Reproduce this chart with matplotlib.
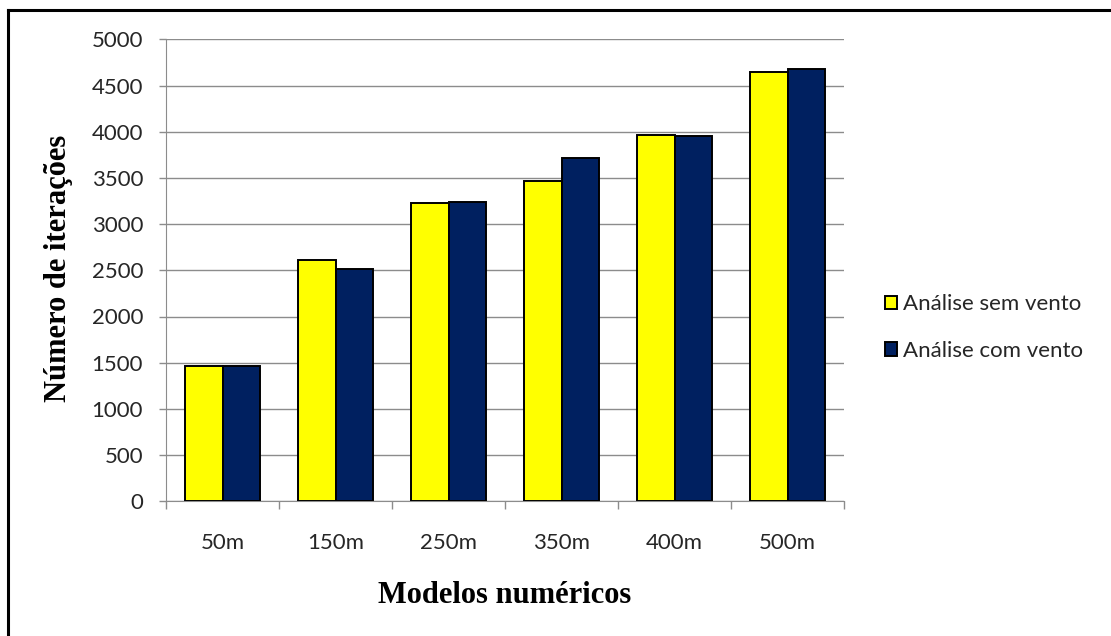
import matplotlib.pyplot as plt
from matplotlib.lines import Line2D
import numpy as np

# Dados do gráfico
modelos = ["50m", "150m", "250m", "350m", "400m", "500m"]
sem_vento = [1465, 2610, 3227, 3470, 3968, 4643]
com_vento = [1463, 2516, 3242, 3718, 3957, 4682]
yticks = [0, 500, 1000, 1500, 2000, 2500, 3000, 3500, 4000, 4500, 5000]

cor_amarelo = "#FFFF00"
cor_azul = "#002060"
cor_grade = "#8c8c8c"

fig = plt.figure(figsize=(11.11, 6.36), dpi=100)
ax = fig.add_axes([166 / 1111, 1 - 501.3 / 636, 678 / 1111, 462 / 636])

x = np.arange(len(modelos))
w = 0.333
ax.bar(x - w / 2, sem_vento, w, color=cor_amarelo, edgecolor="black",
       linewidth=1.4, label="Análise sem vento", zorder=3)
ax.bar(x + w / 2, com_vento, w, color=cor_azul, edgecolor="black",
       linewidth=1.4, label="Análise com vento", zorder=3)

ax.set_xlim(-0.5, len(modelos) - 0.5)
ax.set_ylim(0, 5000)

# Eixo y
ax.set_yticks(yticks)
ax.tick_params(axis="y", direction="out", length=5, width=1, color=cor_grade,
               pad=11.5, labelsize=16)
ax.grid(axis="y", color=cor_grade, linewidth=1, zorder=0)

# Eixo x: rótulos no centro, marcas entre categorias
ax.set_xticks(x)
ax.set_xticklabels(modelos)
ax.set_xticks(np.arange(len(modelos) + 1) - 0.5, minor=True)
ax.tick_params(axis="x", which="major", length=0, pad=23, labelsize=16)
ax.tick_params(axis="x", which="minor", direction="out", length=6, width=1,
               color=cor_grade)

for lbl in ax.get_xticklabels() + ax.get_yticklabels():
    lbl.set_fontfamily("Lato")
    lbl.set_color("#262626")

for s in ["top", "right"]:
    ax.spines[s].set_visible(False)
ax.spines["left"].set_color(cor_grade)
ax.spines["bottom"].set_color(cor_grade)

# Títulos dos eixos
ax.set_ylabel("Número de iterações", fontfamily="Liberation Serif",
              fontweight="bold", fontsize=22)
ax.yaxis.set_label_coords(-0.159, 0.504)
ax.set_xlabel("Modelos numéricos", fontfamily="Liberation Serif",
              fontweight="bold", fontsize=22)
ax.xaxis.set_label_coords(0.5, -0.203)
ax.xaxis.label.set_va("center")
ax.yaxis.label.set_va("center")

# Legenda
leg = ax.legend(loc="center left", bbox_to_anchor=(885 / 1111, 1 - 327.5 / 636),
                bbox_transform=fig.transFigure, frameon=False, borderpad=0,
                borderaxespad=0, handlelength=0.55, handleheight=0.55,
                handletextpad=0.25, labelspacing=1.2,
                prop={"family": "Lato", "size": 16})
for t in leg.get_texts():
    t.set_color("#262626")

# Moldura (apenas topo e esquerda visíveis)
fig.add_artist(Line2D([8 / 1111, 1], [1 - 10 / 636, 1 - 10 / 636],
                      transform=fig.transFigure, color="black", linewidth=2.2))
fig.add_artist(Line2D([8 / 1111, 8 / 1111], [0, 1 - 10 / 636],
                      transform=fig.transFigure, color="black", linewidth=2.2))

plt.savefig("out.png", dpi=100)
